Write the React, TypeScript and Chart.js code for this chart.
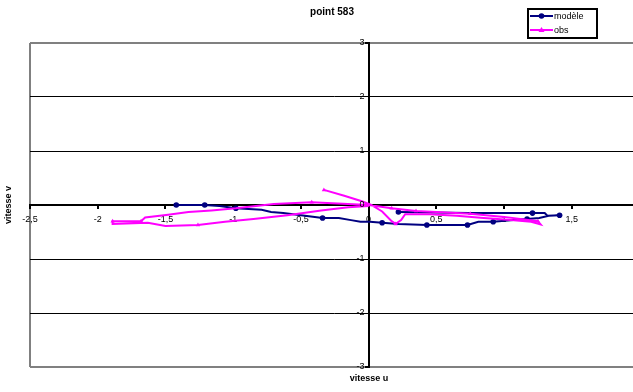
import React, { useEffect, useRef } from "react";
import { Chart, registerables } from "chart.js";

Chart.register(...registerables);

const chartTitle = "point 583";
const xAxisTitle = "vitesse u";
const yAxisTitle = "vitesse v";
const seriesNames = ["modèle", "obs"];

const xMin = -2.5;
const xMax = 2;
const xStep = 0.5;
const yMin = -3;
const yMax = 3;
const yStep = 1;

const modeleU = [-1.42, -1.21, -1.1, -0.98, -0.79, -0.72, -0.63, -0.47, -0.34, -0.22, -0.13, -0.06, 0.01, 0.1, 0.22, 0.43, 0.73, 0.81, 0.92, 1.07, 1.17, 1.26, 1.33, 1.41, 1.32, 1.3, 1.21, 0.74, 0.22];
const modeleV = [0, 0, -0.02, -0.06, -0.09, -0.13, -0.15, -0.2, -0.24, -0.24, -0.28, -0.31, -0.31, -0.33, -0.35, -0.37, -0.37, -0.31, -0.31, -0.28, -0.26, -0.24, -0.2, -0.19, -0.2, -0.15, -0.15, -0.15, -0.13];
const modeleMarked = [0, 1, 3, 8, 13, 15, 16, 18, 20, 23, 26, 28];

const obsU = [-0.33, -0.18, -0.05, 0.02, 0.1, 0.17, 0.2, 0.24, 0.27, 0.45, 0.65, 0.85, 1.05, 1.2, 1.27, 1.25, 1.0, 0.75, 0.5, 0.35, 0.17, 0.0, -0.42, -0.7, -0.98, -1.16, -1.33, -1.48, -1.65, -1.68, -1.89, -1.89, -1.63, -1.5, -1.26, -1.06, -0.85, -0.6, -0.35, -0.15, 0.0];
const obsV = [0.28, 0.17, 0.07, 0.0, -0.12, -0.3, -0.35, -0.28, -0.17, -0.17, -0.2, -0.24, -0.28, -0.31, -0.36, -0.3, -0.22, -0.16, -0.13, -0.11, -0.06, 0.0, 0.05, 0.02, -0.06, -0.1, -0.13, -0.18, -0.23, -0.3, -0.3, -0.35, -0.33, -0.39, -0.37, -0.31, -0.26, -0.19, -0.1, -0.04, -0.02];
const obsMarked = [0, 6, 15, 17, 19, 20, 22, 29, 30, 34];

const NAVY = "#000080";
const PINK = "#FF00FF";
const FONT = "'Liberation Sans', Arial, sans-serif";

const toPoints = (u: number[], v: number[]) => u.map((x, i) => ({ x, y: v[i] }));
const fmt = (n: number) => String(n).replace(".", ",");

const decorPlugin = {
  id: "decor",
  afterDraw(chart: any) {
    const ctx = chart.ctx as CanvasRenderingContext2D;
    const xs = chart.scales.x;
    const ys = chart.scales.y;
    ctx.save();
    // y tick labels, left of the central vertical axis
    ctx.fillStyle = "#000";
    ctx.font = `9px ${FONT}`;
    ctx.textAlign = "right";
    ctx.textBaseline = "middle";
    const axisX = xs.getPixelForValue(0);
    for (const t of ys.ticks) {
      ctx.fillText(fmt(t.value), axisX - 4, ys.getPixelForValue(t.value));
    }
    // title
    ctx.font = `bold 10px ${FONT}`;
    ctx.textAlign = "center";
    ctx.fillText(chartTitle, 332, 12);
    // x axis title
    ctx.font = `bold 9px ${FONT}`;
    ctx.fillText(xAxisTitle, 369, 379);
    // y axis title
    ctx.save();
    ctx.translate(9, 205);
    ctx.rotate(-Math.PI / 2);
    ctx.fillText(yAxisTitle, 0, 0);
    ctx.restore();
    // legend
    const lx = 528, ly = 9, lw = 69, lh = 29;
    ctx.fillStyle = "#fff";
    ctx.fillRect(lx, ly, lw, lh);
    ctx.strokeStyle = "#000";
    ctx.lineWidth = 2;
    ctx.strokeRect(lx, ly, lw, lh);
    const entries = [
      { name: seriesNames[0], color: NAVY, y: ly + 7, shape: "circle" },
      { name: seriesNames[1], color: PINK, y: ly + 21, shape: "triangle" },
    ];
    ctx.font = `9px ${FONT}`;
    ctx.textAlign = "left";
    for (const e of entries) {
      ctx.strokeStyle = e.color;
      ctx.fillStyle = e.color;
      ctx.lineWidth = 2;
      ctx.beginPath();
      ctx.moveTo(lx + 2, e.y);
      ctx.lineTo(lx + 25, e.y);
      ctx.stroke();
      ctx.beginPath();
      if (e.shape === "circle") {
        ctx.arc(lx + 13.5, e.y, 2.8, 0, Math.PI * 2);
      } else {
        ctx.moveTo(lx + 13.5, e.y - 3);
        ctx.lineTo(lx + 16.5, e.y + 2);
        ctx.lineTo(lx + 10.5, e.y + 2);
        ctx.closePath();
      }
      ctx.fill();
      ctx.fillStyle = "#000";
      ctx.fillText(e.name, lx + 26, e.y + 0.5);
    }
    ctx.restore();
  },
};

export default function App() {
  const canvasRef = useRef<HTMLCanvasElement | null>(null);

  useEffect(() => {
    const canvas = canvasRef.current;
    if (!canvas) return;
    const modeleSet = new Set(modeleMarked);
    const obsSet = new Set(obsMarked);
    const chart = new Chart(canvas, {
      type: "scatter",
      data: {
        datasets: [
          {
            label: seriesNames[0],
            data: toPoints(modeleU, modeleV),
            showLine: true,
            borderColor: NAVY,
            backgroundColor: NAVY,
            borderWidth: 2,
            tension: 0,
            pointStyle: "circle",
            pointRadius: (c: any) => (modeleSet.has(c.dataIndex) ? 2.8 : 0),
            pointBorderWidth: 0,
            order: 1,
          },
          {
            label: seriesNames[1],
            data: toPoints(obsU, obsV),
            showLine: true,
            borderColor: PINK,
            backgroundColor: PINK,
            borderWidth: 2,
            tension: 0,
            pointStyle: "triangle",
            pointRadius: (c: any) => (obsSet.has(c.dataIndex) ? 2.5 : 0),
            pointBorderWidth: 0,
            order: 0,
          },
        ],
      },
      options: {
        animation: false,
        responsive: false,
        maintainAspectRatio: false,
        layout: { padding: { left: 30, top: 43, right: 6, bottom: 25 } },
        plugins: {
          legend: { display: false },
          title: { display: false },
          tooltip: { enabled: false },
        },
        scales: {
          x: {
            type: "linear",
            position: { y: 0 } as any,
            min: xMin,
            max: xMax,
            ticks: {
              stepSize: xStep,
              color: "#000",
              font: { family: FONT, size: 9 },
              padding: 6,
              callback: (v: any) => fmt(Number(v)),
            },
            grid: {
              color: (c: any) => (c.tick && (c.tick.value === xMin || c.tick.value === xMax) ? "#808080" : "rgba(0,0,0,0)"),
              lineWidth: 2,
              tickColor: "#000",
              tickLength: 3,
              drawTicks: true,
            },
            border: { color: "#000", width: 2 },
          },
          y: {
            type: "linear",
            position: { x: 0 } as any,
            min: yMin,
            max: yMax,
            ticks: {
              stepSize: yStep,
              display: false,
            },
            grid: {
              color: (c: any) => (c.tick && (c.tick.value === yMin || c.tick.value === yMax) ? "#808080" : "#000"),
              lineWidth: (c: any) => (c.tick && (c.tick.value === yMin || c.tick.value === yMax) ? 2 : 1),
              tickColor: "#000",
              tickLength: 3,
            },
            border: { color: "#000", width: 2 },
          },
        },
      },
      plugins: [decorPlugin],
    } as any);
    return () => chart.destroy();
  }, []);

  return (
    <div style={{ position: "fixed", left: 0, top: 0, width: 633, height: 392, overflow: "hidden", background: "#fff" }}>
      <canvas ref={canvasRef} width={648} height={392} style={{ width: 648, height: 392, display: "block" }} />
    </div>
  );
}
